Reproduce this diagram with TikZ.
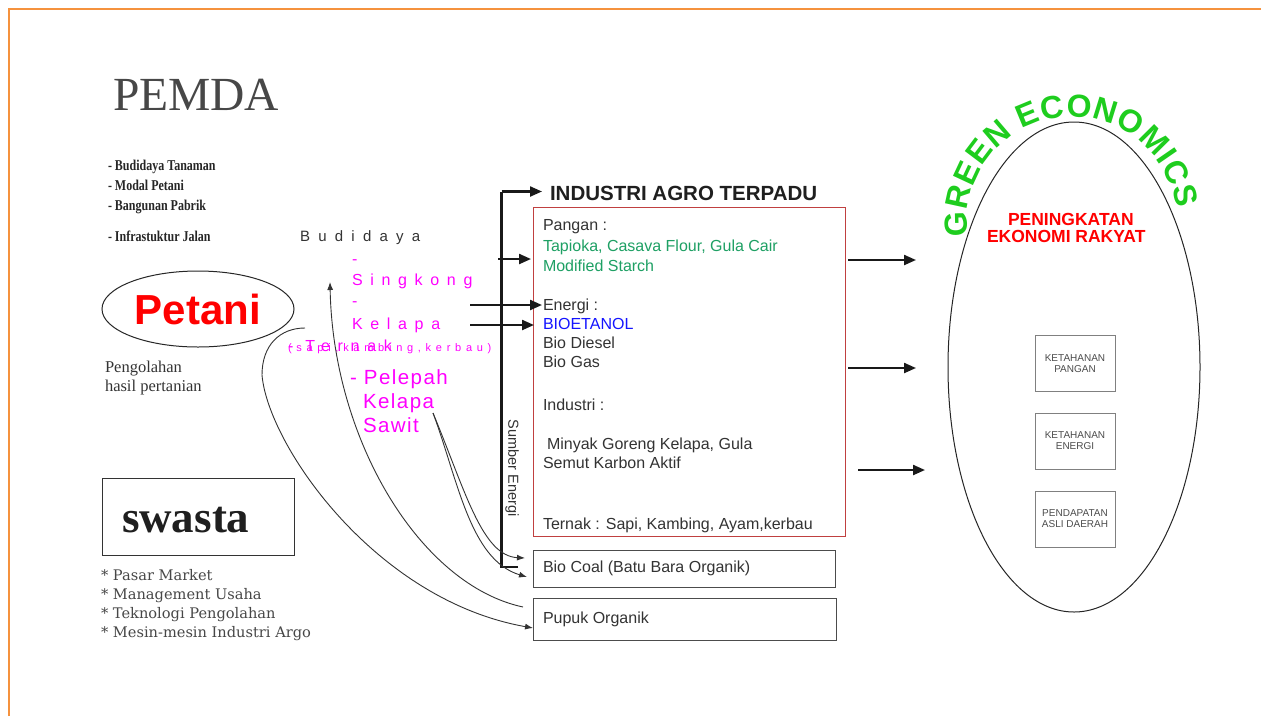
\documentclass[tikz,border=0pt]{standalone}
\usepackage{fontspec}
\setmainfont{Liberation Serif}
\setsansfont{Liberation Sans}
\newfontfamily\condserif[FakeStretch=0.8]{Liberation Serif}
\newfontfamily\listserif{DejaVu Serif}
\newfontfamily\wideA[LetterSpace=55]{Liberation Sans}
\newfontfamily\wideB[LetterSpace=48]{Liberation Sans}
\newfontfamily\wideC[LetterSpace=43]{Liberation Sans}
\newfontfamily\wideD[LetterSpace=7]{Liberation Sans}
\usetikzlibrary{arrows.meta,decorations.text,shapes.geometric}

\definecolor{frameorange}{RGB}{245,146,62}
\definecolor{boxred}{RGB}{192,64,64}
\definecolor{foodgreen}{RGB}{30,160,100}
\definecolor{fuelblue}{RGB}{20,20,255}
\definecolor{cropmagenta}{RGB}{255,0,255}
\definecolor{ecogreen}{RGB}{30,205,30}
\definecolor{inkgrey}{RGB}{51,51,51}

\tikzset{
  lbl/.style={anchor=base west, inner sep=0pt, outer sep=0pt},
  boxtext/.style={lbl, text=inkgrey, font=\sffamily\fontsize{16}{19}\selectfont},
  bullet/.style={lbl, text=black!85, font=\condserif\bfseries\fontsize{15}{15}\selectfont},
  swlist/.style={lbl, text=black!72, font=\listserif\fontsize{14.6}{16}\selectfont},
  crop/.style={lbl, text=cropmagenta, font=\wideB\fontsize{16}{16}\selectfont},
  palm/.style={lbl, text=cropmagenta, font=\wideD\fontsize{20.5}{20.5}\selectfont},
  thickarrow/.style={line width=2.2pt, draw=black!90, -{Triangle[length=12pt,width=10pt]}},
  trunk/.style={line width=2.4pt, draw=black!90},
  thinflow/.style={line width=0.9pt, draw=black!80},
  thintip/.style={thinflow, -{Latex[length=8pt,width=6pt]}},
  goalbox/.style={draw=black!50, line width=0.9pt, minimum width=80pt, minimum height=56pt,
    inner sep=0pt, align=center, text=black!70, font=\sffamily\fontsize{10}{11}\selectfont},
  outbox/.style={draw=black!70, line width=1pt, anchor=north west, inner sep=0pt}
}

\begin{document}
\begin{tikzpicture}[x=1pt,y=-1pt]
% page and frame
\useasboundingbox (0,0) rectangle (1261,716);
\fill[white] (0,0) rectangle (1261,716);
\draw[frameorange, line width=2.5pt] (9,716) -- (9,9) -- (1261,9);

% government side
\node[lbl, text=black!72, font=\fontsize{47.5}{47.5}\selectfont] (pemda) at (113,110) {PEMDA};
\node[bullet] (b1) at (108,170) {- Budidaya Tanaman};
\node[bullet] (b2) at (108,190) {- Modal Petani};
\node[bullet] (b3) at (108,210) {- Bangunan Pabrik};
\node[bullet] (b4) at (108,241) {- Infrastuktur Jalan};

% farmers
\node[draw=black!85, line width=1pt, ellipse, minimum width=192pt, minimum height=76pt, inner sep=0pt,
      text=red, font=\sffamily\bfseries\fontsize{42}{42}\selectfont] (petani) at (198,309) {Petani};
\node[lbl, text=black!80, font=\fontsize{16.5}{19}\selectfont] (olah1) at (105,372) {Pengolahan};
\node[lbl, text=black!80, font=\fontsize{16.5}{19}\selectfont] (olah2) at (105,391) {hasil pertanian};

% private sector
\node[draw=black!80, line width=1pt, minimum width=192pt, minimum height=77pt, inner sep=0pt] (swasta) at (198,516.5) {};
\node[lbl, text=black!88, font=\bfseries\fontsize{45}{45}\selectfont] (swastaText) at (122,532) {swasta};
\node[swlist] (s1) at (101,580) {* Pasar Market};
\node[swlist] (s2) at (101,599) {* Management Usaha};
\node[swlist] (s3) at (101,618) {* Teknologi Pengolahan};
\node[swlist] (s4) at (101,637) {* Mesin-mesin Industri Argo};

% cultivation
\node[lbl, text=inkgrey, font=\wideA\fontsize{15}{15}\selectfont] (budidaya) at (300,241) {Budidaya};
\node[crop] (dash1) at (352,264) {-};
\node[crop] (singkong) at (352,285) {Singkong};
\node[crop] (dash2) at (352,306) {-};
\node[crop] (kelapa) at (352,329) {Kelapa};
\node[crop] (ternak) at (288,351) {- Ternak};
\node[lbl, text=cropmagenta, font=\wideC\fontsize{11}{11}\selectfont] (hewan) at (288,351) {(sapi,kambing,kerbau)};
\node[palm] (pelepah) at (350,384) {- Pelepah};
\node[palm] (kelapa2) at (363,408) {Kelapa};
\node[palm] (sawit) at (363,432) {Sawit};

% integrated agro industry
\node[lbl, text=black!88, font=\sffamily\bfseries\fontsize{20.5}{20.5}\selectfont] (title) at (550,200) {INDUSTRI AGRO TERPADU};
\node[draw=boxred, line width=1.2pt, anchor=north west, minimum width=312pt, minimum height=329pt, inner sep=0pt] (agro) at (533,207) {};
\node[boxtext] (t1) at (543,230) {Pangan :};
\node[boxtext, text=foodgreen] (t2) at (543,251) {Tapioka, Casava Flour, Gula Cair};
\node[boxtext, text=foodgreen] (t3) at (543,271) {Modified Starch};
\node[boxtext] (t4) at (543,310) {Energi :};
\node[boxtext, text=fuelblue] (t5) at (543,329) {BIOETANOL};
\node[boxtext] (t6) at (543,348) {Bio Diesel};
\node[boxtext] (t7) at (543,367) {Bio Gas};
\node[boxtext] (t8) at (543,410) {Industri :};
\node[boxtext] (t9) at (547,449) {Minyak Goreng Kelapa, Gula};
\node[boxtext] (t10) at (543,468) {Semut Karbon Aktif};
\node[boxtext] (t11) at (543,529) {Ternak : Sapi, Kambing, Ayam,kerbau};

\node[outbox, minimum width=302pt, minimum height=37pt] (biocoal) at (533,550) {};
\node[boxtext] (biocoalText) at (543,572) {Bio Coal (Batu Bara Organik)};
\node[outbox, minimum width=303pt, minimum height=42pt] (pupuk) at (533,598) {};
\node[boxtext] (pupukText) at (543,623) {Pupuk Organik};

\node[rotate=-90, inner sep=0pt, text=inkgrey, font=\sffamily\fontsize{14.5}{14.5}\selectfont] (sumber) at (512,468) {Sumber Energi};

% energy trunk and feed arrows
\coordinate (trunkFoot) at (518,567);
\coordinate (trunkBot) at (501.5,567);
\coordinate (trunkTop) at (501.5,191.5);
\coordinate (titleIn) at (542,191.5);
\draw[trunk] (trunkFoot) -- (trunkBot) -- (trunkTop);
\draw[thickarrow] (trunkTop) -- (titleIn);
\coordinate (panganFrom) at (498,259);
\coordinate (panganIn) at (531,259);
\draw[thickarrow] (panganFrom) -- (panganIn);
\coordinate (energiFrom) at (470,305);
\coordinate (energiIn) at (542,305);
\draw[thickarrow] (energiFrom) -- (energiIn);
\coordinate (etanolFrom) at (470,325);
\coordinate (etanolIn) at (534,325);
\draw[thickarrow] (etanolFrom) -- (etanolIn);

% outputs toward green economics
\coordinate (out1) at (848,260);  \coordinate (in1) at (916,260);
\coordinate (out2) at (848,368);  \coordinate (in2) at (916,368);
\coordinate (out3) at (858,470);  \coordinate (in3) at (925,470);
\draw[thickarrow] (out1) -- (in1);
\draw[thickarrow] (out2) -- (in2);
\draw[thickarrow] (out3) -- (in3);

% green economics
\node[draw=black!85, line width=1pt, ellipse, minimum width=252pt, minimum height=490pt, inner sep=0pt] (green) at (1074,367) {};
\node[lbl, text=red, font=\sffamily\bfseries\fontsize{17.5}{17.5}\selectfont] (naik1) at (1008,225) {PENINGKATAN};
\node[lbl, text=red, font=\sffamily\bfseries\fontsize{17.5}{17.5}\selectfont] (naik2) at (987,242) {EKONOMI RAKYAT};
\node[goalbox] (kpangan) at (1075,363.5) {KETAHANAN\\PANGAN};
\node[goalbox] (kenergi) at (1075,441) {KETAHANAN\\ENERGI};
\node[goalbox] (pad) at (1075,519) {PENDAPATAN\\ASLI DAERAH};
\begin{scope}[y=1pt]
  \path[decorate, decoration={text along path, text color=ecogreen,
      text={|\sffamily\bfseries\fontsize{32}{32}\selectfont|GREEN ECONOMICS},
      text align={fit to path}}]
    (968,-236.2) arc[start angle=188, end angle=7, radius=105];
\end{scope}

% recycling flows
\coordinate (tailStart) at (305,328);
\coordinate (pupukIn) at (533,628);
\draw[thintip] (tailStart) .. controls (280,328) and (262,345) .. (262,375)
  .. controls (268,445) and (375,600) .. (pupukIn);
\coordinate (pupukOut) at (523,607);
\coordinate (budIn) at (330,282);
\draw[thintip] (pupukOut) .. controls (420,585) and (333,440) .. (budIn);
\coordinate (sawitOut) at (433,413);
\coordinate (coalIn1) at (525,558);
\coordinate (coalIn2) at (527,577);
\draw[thintip] (sawitOut) .. controls (465,490) and (482,556) .. (coalIn1);
\draw[thintip] (sawitOut) .. controls (458,480) and (470,560) .. (coalIn2);
\end{tikzpicture}
\end{document}
